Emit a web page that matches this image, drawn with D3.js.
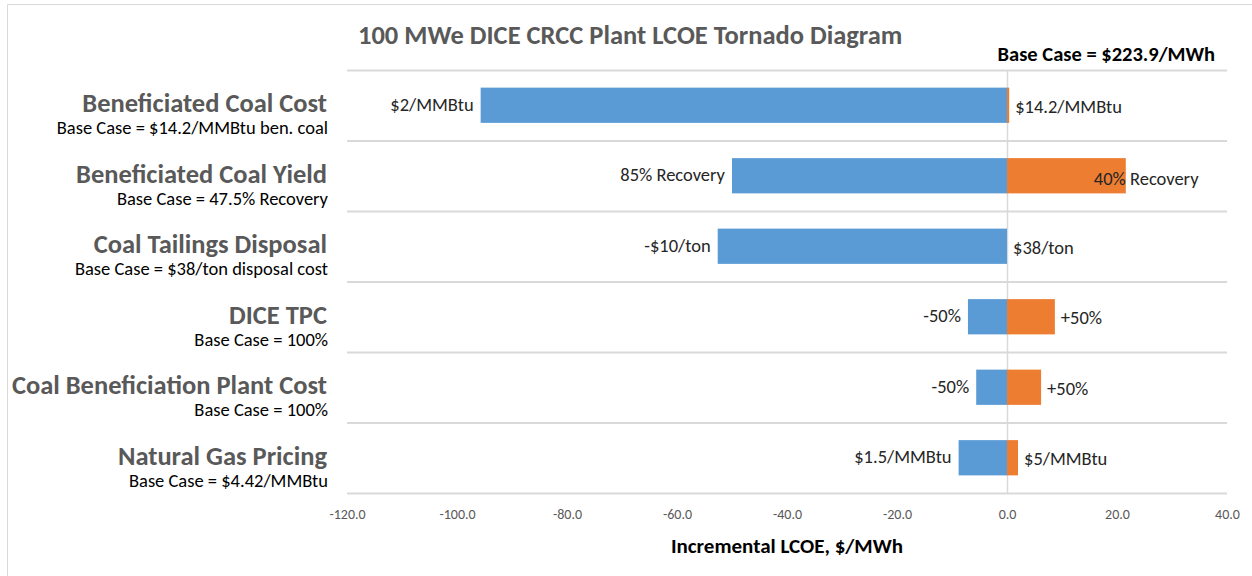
<!DOCTYPE html>
<html>
<head>
<meta charset="utf-8">
<script src="https://cdn.jsdelivr.net/npm/d3@7"></script>
<style>
  body { margin: 0; background: #fff; }
  svg text { font-family: Carlito, Calibri, Lato, sans-serif; }
</style>
</head>
<body>
<div id="chart"></div>
<script>
// values ($/MWh change from base case)
var categories = ["Beneficiated Coal Cost", "Beneficiated Coal Yield", "Coal Tailings Disposal",
  "DICE TPC", "Coal Beneficiation Plant Cost", "Natural Gas Pricing"];
var baseCases = ["Base Case = $14.2/MMBtu ben. coal", "Base Case = 47.5% Recovery",
  "Base Case = $38/ton disposal cost", "Base Case = 100%", "Base Case = 100%", "Base Case = $4.42/MMBtu"];
var lowValues = [-95.7, -50.0, -52.6, -7.1, -5.6, -8.8];
var highValues = [0.4, 21.6, 0.0, 8.7, 6.2, 2.0];
var lowLabels = ["$2/MMBtu", "85% Recovery", "-$10/ton", "-50%", "-50%", "$1.5/MMBtu"];
var highLabels = ["$14.2/MMBtu", "40% Recovery", "$38/ton", "+50%", "+50%", "$5/MMBtu"];
var xTicks = [-120, -100, -80, -60, -40, -20, 0, 20, 40];

var width = 1252;
var height = 576;

var plotLeft = 347, plotRight = 1227, plotTop = 70, plotBottom = 493;

var svg = d3.select("#chart").append("svg")
  .attr("width", width)
  .attr("height", height);

// chart area border (only top and left edges are visible in the original)
svg.append("path")
  .attr("d", "M7.5," + height + "V4.5H" + width)
  .attr("fill", "none")
  .attr("stroke", "#d9d9d9");

var x = d3.scaleLinear().domain([-120, 40]).range([plotLeft, plotRight]);
var row = d3.scaleBand().domain(categories).range([plotTop, plotBottom]);
var bar = d3.scaleBand().domain(categories).range([plotTop, plotBottom])
  .paddingInner(0.5).paddingOuter(0.25);

// row separators
svg.append("g").selectAll("line")
  .data(categories)
  .enter().append("line")
  .attr("x1", plotLeft).attr("x2", plotRight)
  .attr("y1", function(d) { return row(d) + 0.5; })
  .attr("y2", function(d) { return row(d) + 0.5; })
  .attr("stroke", "#d9d9d9")
  .attr("stroke-width", 2);

svg.append("line")
  .attr("x1", plotLeft).attr("x2", plotRight)
  .attr("y1", plotBottom + 0.5).attr("y2", plotBottom + 0.5)
  .attr("stroke", "#d9d9d9")
  .attr("stroke-width", 2);

// zero line
svg.append("line")
  .attr("x1", x(0) + 0.5).attr("x2", x(0) + 0.5)
  .attr("y1", plotTop).attr("y2", plotBottom)
  .attr("stroke", "#d9d9d9")
  .attr("stroke-width", 1.5);

var rows = categories.map(function(c, i) {
  return {cat: c, base: baseCases[i], lo: lowValues[i], hi: highValues[i],
    loLabel: lowLabels[i], hiLabel: highLabels[i], i: i};
});

svg.append("g").selectAll("rect")
  .data(rows)
  .enter().append("rect")
  .attr("x", function(d) { return x(d.lo); })
  .attr("width", function(d) { return x(0) - x(d.lo); })
  .attr("y", function(d) { return bar(d.cat); })
  .attr("height", bar.bandwidth())
  .attr("fill", "#5b9bd5");

svg.append("g").selectAll("rect")
  .data(rows.filter(function(d) { return d.hi > 0; }))
  .enter().append("rect")
  .attr("x", x(0))
  .attr("width", function(d) { return x(d.hi) - x(0); })
  .attr("y", function(d) { return bar(d.cat); })
  .attr("height", bar.bandwidth())
  .attr("fill", "#ed7d31");

// bar labels
svg.append("g").selectAll("text")
  .data(rows)
  .enter().append("text")
  .attr("x", function(d) { return x(d.lo) - 7; })
  .attr("y", function(d) { return bar(d.cat) + bar.bandwidth() / 2 - 1; })
  .attr("dy", "0.35em")
  .attr("text-anchor", "end")
  .attr("font-size", 18.5)
  .attr("fill", "#262626")
  .text(function(d) { return d.loLabel; });

svg.append("g").selectAll("text")
  .data(rows)
  .enter().append("text")
  .attr("x", function(d) {
    // Excel pushed the long "40% Recovery" label back over its bar
    return d.i == 1 ? x(d.hi) - 32 : x(Math.max(d.hi, 0)) + 6;
  })
  .attr("y", function(d) { return bar(d.cat) + bar.bandwidth() / 2 + (d.i == 1 ? 3 : 1); })
  .attr("dy", "0.35em")
  .attr("font-size", 18.5)
  .attr("fill", "#262626")
  .text(function(d) { return d.hiLabel; });

// category labels
var catLabels = svg.append("g").selectAll("g")
  .data(rows)
  .enter().append("g")
  .attr("transform", function(d) { return "translate(0," + (row(d.cat) + row.bandwidth() / 2) + ")"; });

catLabels.append("text")
  .attr("x", 327)
  .attr("y", 7)
  .attr("text-anchor", "end")
  .attr("font-size", 26.5)
  .attr("font-weight", "bold")
  .attr("fill", "#595959")
  .text(function(d) { return d.cat; });

catLabels.append("text")
  .attr("x", 328)
  .attr("y", 29)
  .attr("text-anchor", "end")
  .attr("font-size", 18.5)
  .attr("fill", "#000")
  .text(function(d) { return d.base; });

// x axis
var axis = svg.append("g")
  .attr("transform", "translate(0," + plotBottom + ")")
  .call(d3.axisBottom(x)
    .tickValues(xTicks)
    .tickSize(0)
    .tickPadding(16)
    .tickFormat(function(d) { return d.toFixed(1); }));

axis.select(".domain").remove();
axis.selectAll("text")
  .attr("font-size", 14)
  .attr("font-family", "Carlito, Calibri, Lato, sans-serif")
  .attr("fill", "#595959");

svg.append("text")
  .attr("x", (plotLeft + plotRight) / 2)
  .attr("y", 553)
  .attr("text-anchor", "middle")
  .attr("font-size", 21)
  .attr("font-weight", "bold")
  .attr("fill", "#000")
  .text("Incremental LCOE, $/MWh");

svg.append("text")
  .attr("x", 358)
  .attr("y", 44)
  .attr("font-size", 26.5)
  .attr("font-weight", "bold")
  .attr("fill", "#595959")
  .text("100 MWe DICE CRCC Plant LCOE Tornado Diagram");

svg.append("text")
  .attr("x", 1215)
  .attr("y", 61)
  .attr("text-anchor", "end")
  .attr("font-size", 20.5)
  .attr("font-weight", "bold")
  .attr("fill", "#000")
  .text("Base Case = $223.9/MWh");
</script>
</body>
</html>
